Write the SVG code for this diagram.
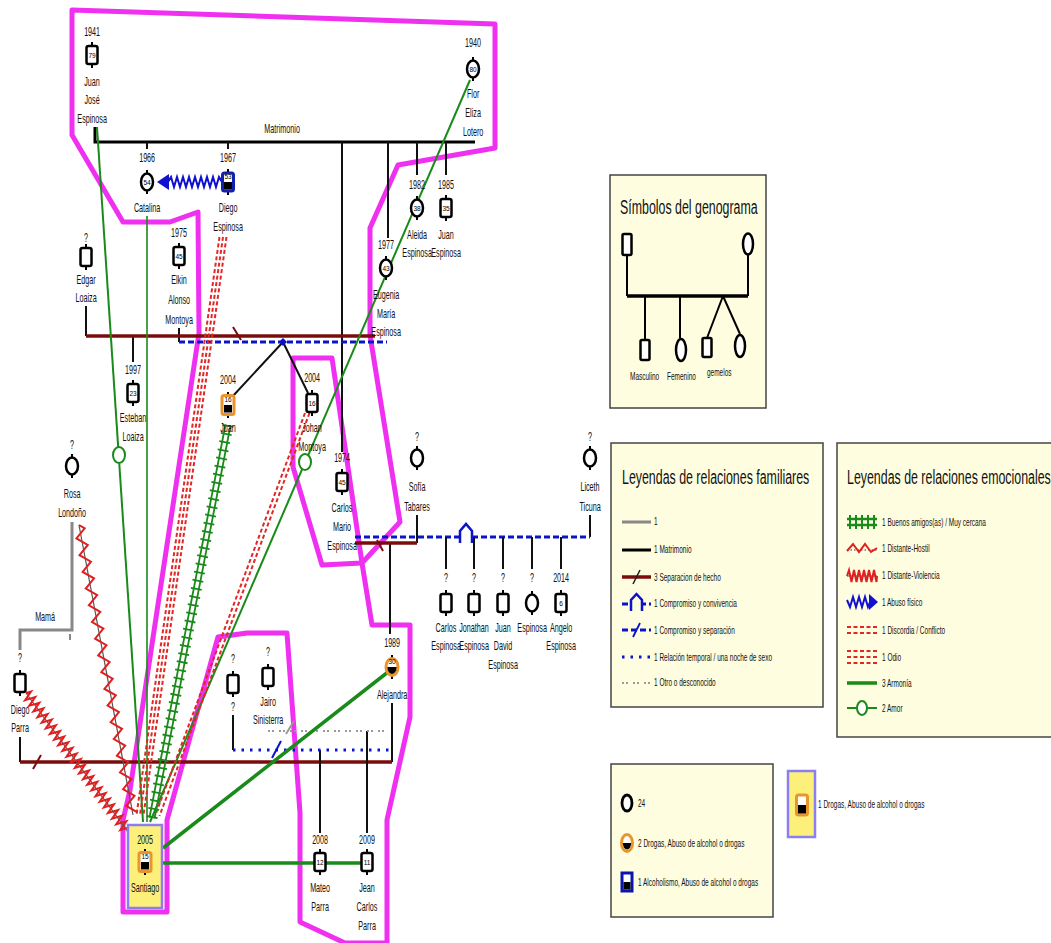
<svg xmlns="http://www.w3.org/2000/svg" width="1051" height="943" viewBox="0 0 1051 943">
<style>
.t{font-family:"Liberation Sans",Arial,sans-serif;font-size:12px;fill:#111;text-anchor:middle;transform-box:fill-box;transform-origin:center;transform:scaleX(.6)}
.a{font-family:"Liberation Sans",Arial,sans-serif;font-size:6.5px;fill:#000;text-anchor:middle}
.lg{font-family:"Liberation Sans",Arial,sans-serif;font-size:10px;fill:#111;transform-box:fill-box;transform-origin:left center;transform:scaleX(.65)}
.ti{font-family:"Liberation Sans",Arial,sans-serif;font-size:21px;fill:#111;transform-box:fill-box;transform-origin:left center;transform:scaleX(.59)}
.sym{fill:#fff;stroke:#000;stroke-width:2.5}
.hh{fill:none;stroke:#f030f0;stroke-width:5;stroke-linejoin:round}
.box{fill:#fefddf;stroke:#444;stroke-width:1.5}
.mar{stroke:#000;stroke-width:3;fill:none}
.thin{stroke:#111;stroke-width:2;fill:none}
.sep{stroke:#7a0c0c;stroke-width:3.5;fill:none}
.bd{stroke:#0a14c8;stroke-width:3;stroke-dasharray:6 3;fill:none}
.bdot{stroke:#0a14c8;stroke-width:3;stroke-dasharray:2.5 6;fill:none}
.gr{stroke:#888;stroke-width:3;fill:none}
.gdot{stroke:#9a9a9a;stroke-width:2;stroke-dasharray:2 2 2 5;fill:none}
.odio{stroke:#e02828;stroke-width:2;stroke-dasharray:4 2.5;fill:none}
.harm{stroke:#1a8a1a;stroke-width:1.6;fill:none}
.harmt{stroke:#1a8a1a;stroke-width:3.5;fill:none}
.gl{stroke:#1a8a1a;stroke-width:2;fill:none}
.amor{fill:#fff;stroke:#1a8a1a;stroke-width:2}
.zz{fill:none;stroke:#e02020;stroke-width:2;stroke-linejoin:miter}
.blz{fill:none;stroke:#1010d0;stroke-width:2}
</style>
<defs>
<g id="M"><path d="M0,-13V-9M0,9V13" stroke="#000" stroke-width="2"/><rect x="-5.5" y="-9" width="11" height="18" rx="2" class="sym"/></g>
<g id="F"><path d="M0,-12V-8M0,8V12" stroke="#000" stroke-width="2"/><ellipse rx="6" ry="8.5" class="sym"/></g>
<g id="MD"><path d="M0,-13V-9M0,9V13" stroke="#000" stroke-width="2"/><rect x="-6" y="-9.5" width="12" height="19" rx="2" fill="#fff" stroke="#e8962c" stroke-width="3"/><rect x="-4" y="0" width="8" height="7.5" fill="#000"/></g>
<g id="MA"><path d="M0,-13V-9M0,9V13" stroke="#000" stroke-width="2"/><rect x="-5.5" y="-9" width="11" height="18" rx="2" fill="#fff" stroke="#1020b0" stroke-width="3"/><rect x="-4" y="0" width="8" height="7.5" fill="#000"/></g>
<g id="FD"><path d="M0,-12V-8M0,8V12" stroke="#000" stroke-width="2"/><ellipse rx="6" ry="8.5" fill="#fff" stroke="#e8962c" stroke-width="3"/><path d="M-4.6,0 A4.6,7 0 0 0 4.6,0 Z" fill="#000"/></g>
</defs>
<rect width="1051" height="943" fill="#fff"/>

<g id="households">
<polygon class="hh" points="72,10 495,24 495,148 398,165 370,228 370,335 400,522 362,563 372,625 410,625 410,717 387,820 387,943 345,943 300,922 300,813 287,633 247,633 218,637 167,820 167,912 123,912 123,820 130,790 199,333 198,212 170,222 123,222 72,135"/>
<polygon class="hh" points="293,358 332,358 362,563 322,565 293,467"/>
</g>

<g id="connectors">
<path class="mar" d="M95,127V142H475"/>
<path class="thin" d="M147,142V149M228,142V149M342,142V452M388,142V238M417,142V175M446,142V175"/>
<path class="thin" d="M86,306V336M133,336V362M179,328V342"/>
<path class="sep" d="M86,336H375"/>
<path d="M233,327L241,340" stroke="#7a0c0c" stroke-width="2"/>
<path class="bd" d="M179,342H387"/>
<path class="thin" d="M283,342L232,397M283,342L308,393"/>
<path d="M279,342L283,338L287,342L283,346Z" fill="#0a14c8"/>
<path class="gr" d="M72,522V630H20V650"/>
<path d="M70,634V640" stroke="#888" stroke-width="2"/>
<path class="thin" d="M20,737V762M392,703V762"/>
<path class="sep" d="M20,762H392"/>
<path d="M33,769L41,755" stroke="#7a0c0c" stroke-width="2"/>
<path class="thin" d="M417,515V543M590,515V537M390,543V634"/>
<path class="sep" d="M355,543H417"/>
<path d="M377,540L383,551" stroke="#7a0c0c" stroke-width="2"/>
<path class="bd" d="M355,537H590"/>
<path d="M460,543V531L466,524L472,531V543" fill="#fff" stroke="#0a14c8" stroke-width="2.5"/>
<path class="thin" d="M446,537V569M474,537V569M503,537V569M532,537V569M561,537V569"/>
<path class="thin" d="M233,715V750M320,750V833M367,731V833"/>
<path class="bdot" d="M233,750H390"/>
<path d="M272,758L281,741" stroke="#0a14c8" stroke-width="2"/>
<path class="gdot" d="M268,731H387"/>
<path d="M286,734L294,721" stroke="#999" stroke-width="2"/>
<path class="harm" d="M147,216V822"/>
<path class="gl" d="M97,127L143,822"/>
<ellipse cx="119" cy="455" rx="6" ry="8" class="amor"/>
<path class="gl" d="M470,80L150,822"/>
<ellipse cx="305" cy="462" rx="6" ry="8" class="amor"/>
<path class="odio" d="M219.5,237L136.5,815M223,237L140,815M226.5,237L143.5,815"/>
<path class="odio" d="M305,413L155,816M309.5,413L159.5,816"/>
<path d="M225.5,424.5L149.5,817.5M230.5,425.5L154.5,818.5" stroke="#1a8a1a" stroke-width="1.8" fill="none"/>
<path d="M228,425L152,818" stroke="#1a8a1a" stroke-width="11" stroke-dasharray="1.8 6.5" fill="none"/>
<g transform="translate(79,525) rotate(79.45)">
<path d="M0,0H295" stroke="#555" stroke-width="1.2"/>
<path class="zz" d="M0,0l4.25,-5l8.5,10l8.5,-10l8.5,10l8.5,-10l8.5,10l8.5,-10l8.5,10l8.5,-10l8.5,10l8.5,-10l8.5,10l8.5,-10l8.5,10l8.5,-10l8.5,10l8.5,-10l8.5,10l8.5,-10l8.5,10l8.5,-10l8.5,10l8.5,-10l8.5,10l8.5,-10l8.5,10l8.5,-10l8.5,10l8.5,-10l8.5,10l8.5,-10l8.5,10l8.5,-10l8.5,10l8.5,-10"/>
</g>
<g transform="translate(26,693) rotate(53.7)">
<path d="M0,0H172" stroke="#555" stroke-width="1.2"/>
<path class="zz" d="M0,0l1.75,-5l3.5,10l3.5,-10l3.5,10l3.5,-10l3.5,10l3.5,-10l3.5,10l3.5,-10l3.5,10l3.5,-10l3.5,10l3.5,-10l3.5,10l3.5,-10l3.5,10l3.5,-10l3.5,10l3.5,-10l3.5,10l3.5,-10l3.5,10l3.5,-10l3.5,10l3.5,-10l3.5,10l3.5,-10l3.5,10l3.5,-10l3.5,10l3.5,-10l3.5,10l3.5,-10l3.5,10l3.5,-10l3.5,10l3.5,-10l3.5,10l3.5,-10l3.5,10l3.5,-10l3.5,10l3.5,-10l3.5,10l3.5,-10l3.5,10l3.5,-10l3.5,10l3.5,-10"/>
</g>
<path class="blz" d="M222,182L219,177L216,187L213,177L210,187L207,177L204,187L201,177L198,187L195,177L192,187L189,177L186,187L183,177L180,187L177,177L174,187L171,177L168,182"/>
<path d="M169,174V190L157,182Z" fill="#1010d0"/>
<path class="harmt" d="M163,848L388,672M163,863H362"/>
</g>

<g id="p-juanjose"><text class="t" x="92" y="36">1941</text><use href="#M" x="92" y="55"/><text class="a" x="92" y="57.5">79</text><text class="t" x="92" y="86">Juan</text><text class="t" x="92" y="104">José</text><text class="t" x="92" y="123">Espinosa</text></g>
<g id="p-flor"><text class="t" x="473" y="47">1940</text><use href="#F" x="473" y="69"/><text class="a" x="473" y="71.5">80</text><text class="t" x="473" y="98">Flor</text><text class="t" x="473" y="117">Eliza</text><text class="t" x="473" y="136">Lotero</text></g>
<text class="t" x="282" y="133">Matrimonio</text>
<g id="p-catalina"><text class="t" x="147" y="162">1966</text><use href="#F" x="147" y="182"/><text class="a" x="147" y="184.5">54</text><text class="t" x="147" y="212">Catalina</text></g>
<g id="p-diegoe"><text class="t" x="228" y="162">1967</text><use href="#MA" x="228" y="182"/><text class="a" x="228" y="179">53</text><text class="t" x="228" y="212">Diego</text><text class="t" x="228" y="231">Espinosa</text></g>
<g id="p-aleida"><text class="t" x="417" y="189">1982</text><use href="#F" x="417" y="208"/><text class="a" x="417" y="210.5">38</text><text class="t" x="417" y="239">Aleida</text><text class="t" x="417" y="257">Espinosa</text></g>
<g id="p-juane"><text class="t" x="446" y="189">1985</text><use href="#M" x="446" y="208"/><text class="a" x="446" y="210.5">35</text><text class="t" x="446" y="239">Juan</text><text class="t" x="446" y="257">Espinosa</text></g>
<g id="p-eugenia"><text class="t" x="386" y="249">1977</text><use href="#F" x="386" y="268"/><text class="a" x="386" y="270.5">43</text><text class="t" x="386" y="299">Eugenia</text><text class="t" x="386" y="318">María</text><text class="t" x="386" y="336">Espinosa</text></g>
<g id="p-edgar"><text class="t" x="86" y="242">?</text><use href="#M" x="86" y="257"/><text class="t" x="86" y="284">Edgar</text><text class="t" x="86" y="302">Loaiza</text></g>
<g id="p-elkin"><text class="t" x="179" y="237">1975</text><use href="#M" x="179" y="256"/><text class="a" x="179" y="258.5">45</text><text class="t" x="179" y="284">Elkin</text><text class="t" x="179" y="304">Alonso</text><text class="t" x="179" y="324">Montoya</text></g>
<g id="p-esteban"><text class="t" x="133" y="374">1997</text><use href="#M" x="133" y="393"/><text class="a" x="133" y="395.5">23</text><text class="t" x="133" y="422">Esteban</text><text class="t" x="133" y="441">Loaiza</text></g>
<g id="p-juan"><text class="t" x="228" y="384">2004</text><use href="#MD" x="228" y="405"/><text class="a" x="228" y="402">16</text><text class="t" x="228" y="432">Juan</text></g>
<g id="p-johan"><text class="t" x="312" y="382">2004</text><use href="#M" x="312" y="403"/><text class="a" x="312" y="405.5">16</text><text class="t" x="312" y="432">Johan</text><text class="t" x="312" y="451">Montoya</text></g>
<g id="p-carlosm"><text class="t" x="342" y="462">1974</text><use href="#M" x="342" y="482"/><text class="a" x="342" y="484.5">45</text><text class="t" x="342" y="512">Carlos</text><text class="t" x="342" y="531">Mario</text><text class="t" x="342" y="550">Espinosa</text></g>
<g id="p-rosa"><text class="t" x="72" y="449">?</text><use href="#F" x="72" y="466"/><text class="t" x="72" y="498">Rosa</text><text class="t" x="72" y="517">Londoño</text></g>
<g id="p-sofia"><text class="t" x="417" y="441">?</text><use href="#F" x="417" y="458"/><text class="t" x="417" y="491">Sofía</text><text class="t" x="417" y="511">Tabares</text></g>
<g id="p-liceth"><text class="t" x="590" y="441">?</text><use href="#F" x="590" y="458"/><text class="t" x="590" y="491">Liceth</text><text class="t" x="590" y="511">Ticuna</text></g>
<g id="p-carlose"><text class="t" x="446" y="582">?</text><use href="#M" x="446" y="603"/><text class="t" x="446" y="632">Carlos</text><text class="t" x="446" y="650">Espinosa</text></g>
<g id="p-jonathan"><text class="t" x="474" y="582">?</text><use href="#M" x="474" y="603"/><text class="t" x="474" y="632">Jonathan</text><text class="t" x="474" y="650">Espinosa</text></g>
<g id="p-juandavid"><text class="t" x="503" y="582">?</text><use href="#M" x="503" y="603"/><text class="t" x="503" y="632">Juan</text><text class="t" x="503" y="650">David</text><text class="t" x="503" y="669">Espinosa</text></g>
<g id="p-espinosa"><text class="t" x="532" y="582">?</text><use href="#F" x="532" y="603"/><text class="t" x="532" y="632">Espinosa</text></g>
<g id="p-angelo"><text class="t" x="561" y="582">2014</text><use href="#M" x="561" y="603"/><text class="a" x="561" y="605.5">6</text><text class="t" x="561" y="632">Angelo</text><text class="t" x="561" y="650">Espinosa</text></g>
<g id="p-diegop"><text class="t" x="20" y="662">?</text><use href="#M" x="20" y="683"/><text class="t" x="20" y="714">Diego</text><text class="t" x="20" y="732">Parra</text></g>
<text class="t" x="45" y="621">Mamá</text>
<g id="p-alejandra"><text class="t" x="392" y="647">1989</text><use href="#FD" x="392" y="667"/><text class="a" x="392" y="664">30</text><text class="t" x="392" y="699">Alejandra</text></g>
<g id="p-unknown"><text class="t" x="233" y="663">?</text><use href="#M" x="233" y="684"/><text class="t" x="233" y="711">?</text></g>
<g id="p-jairo"><text class="t" x="268" y="656">?</text><use href="#M" x="268" y="677"/><text class="t" x="268" y="706">Jairo</text><text class="t" x="268" y="724">Sinisterra</text></g>
<g id="p-santiago"><rect x="128" y="825" width="34" height="83" fill="#fdf07a" stroke="#8a7ef0" stroke-width="2.5"/><text class="t" x="145" y="844">2005</text><use href="#MD" x="145" y="862"/><text class="a" x="145" y="859">15</text><text class="t" x="145" y="892">Santiago</text></g>
<g id="p-mateo"><text class="t" x="320" y="844">2008</text><use href="#M" x="320" y="862"/><text class="a" x="320" y="864.5">12</text><text class="t" x="320" y="892">Mateo</text><text class="t" x="320" y="911">Parra</text></g>
<g id="p-jean"><text class="t" x="367" y="844">2009</text><use href="#M" x="367" y="862"/><text class="a" x="367" y="864.5">11</text><text class="t" x="367" y="892">Jean</text><text class="t" x="367" y="911">Carlos</text><text class="t" x="367" y="930">Parra</text></g>

<g id="legend-simbolos">
<rect class="box" x="610" y="175" width="156" height="233"/>
<text class="ti" x="620" y="214">Símbolos del genograma</text>
<path d="M627,255V296M748,255V296M645,296V340M680,296V338M723,296L707,338M723,296L740,334" stroke="#000" stroke-width="2" fill="none"/>
<path d="M627,296H748" stroke="#000" stroke-width="3.5"/>
<rect x="622.5" y="234" width="9" height="21" rx="1.5" class="sym"/>
<ellipse cx="748" cy="244" rx="5" ry="10.5" class="sym"/>
<rect x="640.5" y="340" width="9" height="20" rx="1.5" class="sym"/>
<ellipse cx="681" cy="350" rx="5" ry="11" class="sym"/>
<rect x="702.5" y="338" width="9" height="19" rx="1.5" class="sym"/>
<ellipse cx="740" cy="346" rx="5" ry="11" class="sym"/>
<text class="lg" x="630" y="380">Masculino</text>
<text class="lg" x="667" y="380">Femenino</text>
<text class="lg" x="707" y="376">gemelos</text>
</g>

<g id="legend-familiares">
<rect class="box" x="611" y="443" width="212" height="264"/>
<text class="ti" x="622" y="484">Leyendas de relaciones familiares</text>
<path class="gr" d="M622,522H651"/>
<path class="mar" d="M622,550H651"/>
<path class="sep" d="M622,577H651"/>
<path d="M633,584L640,570" stroke="#222" stroke-width="1.5"/>
<path class="bd" d="M622,604H651"/>
<path d="M631,611V600L636.5,594L642,600V611" fill="#fefddf" stroke="#0a14c8" stroke-width="2.5"/>
<path class="bd" d="M622,630H651"/>
<path d="M633,637L640,623" stroke="#0a14c8" stroke-width="1.8"/>
<path class="bdot" d="M622,657H651"/>
<path class="gdot" d="M622,683H651"/>
<text class="lg" x="654" y="525.5">1</text>
<text class="lg" x="654" y="553.5">1 Matrimonio</text>
<text class="lg" x="654" y="581">3 Separacion de hecho</text>
<text class="lg" x="654" y="607.5">1 Compromiso y convivencia</text>
<text class="lg" x="654" y="634">1 Compromiso y separación</text>
<text class="lg" x="654" y="661">1 Relación temporal / una noche de sexo</text>
<text class="lg" x="654" y="686.5">1 Otro o desconocido</text>
</g>

<g id="legend-emocionales">
<rect class="box" x="837" y="443" width="220" height="294"/>
<text class="ti" x="847" y="484">Leyendas de relaciones emocionales</text>
<path d="M847,519H877M847,525H877" stroke="#1a8a1a" stroke-width="2.5"/>
<path d="M850,515V529M856,515V529M862,515V529M868,515V529M874,515V529" stroke="#1a8a1a" stroke-width="2"/>
<path d="M847,550H877" stroke="#777" stroke-width="1.5" stroke-dasharray="1.5 2"/>
<path class="zz" d="M847,551L853,544L859,552L865,544L871,552L877,548"/>
<path d="M847,576H877" stroke="#555" stroke-width="1"/>
<path class="zz" d="M847,576L849,570L851.5,582L854,570L856.5,582L859,570L861.5,582L864,570L866.5,582L869,570L871.5,582L874,570L876.5,582L877,576"/>
<path class="blz" d="M847,600L850,607L853,597L856,607L859,597L862,607L865,597L868,607L870,602"/>
<path d="M869,594V610L878,602Z" fill="#1010d0"/>
<path class="odio" d="M847,627H877M847,633H877" stroke-dasharray="2.2 1.6"/>
<path class="odio" d="M847,651H877M847,657H877M847,663H877" stroke-dasharray="2.2 1.6"/>
<path class="harmt" d="M847,683H877"/>
<path class="gl" d="M847,708H877" stroke-width="3"/>
<ellipse cx="862" cy="708" rx="5" ry="7" class="amor" stroke-width="2.5"/>
<text class="lg" x="882" y="526">1 Buenos amigos(as) / Muy cercana</text>
<text class="lg" x="882" y="552">1 Distante-Hostil</text>
<text class="lg" x="882" y="579">1 Distante-Violencia</text>
<text class="lg" x="882" y="606">1 Abuso físico</text>
<text class="lg" x="882" y="634">1 Discordia / Conflicto</text>
<text class="lg" x="882" y="661">1 Odio</text>
<text class="lg" x="882" y="687">3 Armonía</text>
<text class="lg" x="882" y="712">2 Amor</text>
</g>

<g id="legend-problemas">
<rect class="box" x="611" y="764" width="162" height="153"/>
<ellipse cx="627" cy="803" rx="5" ry="8" fill="#fff" stroke="#000" stroke-width="2.8"/>
<ellipse cx="627" cy="843" rx="5.5" ry="8.5" fill="#fff" stroke="#e8962c" stroke-width="3"/>
<path d="M622.8,843A4.2,6.5 0 0 0 631.2,843Z" fill="#000"/>
<rect x="622" y="873" width="10" height="18" fill="#fff" stroke="#0a14b0" stroke-width="3"/>
<rect x="623.5" y="882" width="7" height="7.5" fill="#000"/>
<text class="lg" x="638" y="807">24</text>
<text class="lg" x="638" y="847">2 Drogas, Abuso de alcohol o drogas</text>
<text class="lg" x="638" y="886">1 Alcoholismo, Abuso de alcohol o drogas</text>
<rect x="788" y="771" width="27" height="66" fill="#fdf07a" stroke="#8a7ef0" stroke-width="2.5"/>
<rect x="796.5" y="795" width="11" height="20" rx="2" fill="#fff" stroke="#e8962c" stroke-width="3"/>
<rect x="798" y="805" width="8" height="8.5" fill="#000"/>
<text class="lg" x="818" y="808.5">1 Drogas, Abuso de alcohol o drogas</text>
</g>
</svg>
